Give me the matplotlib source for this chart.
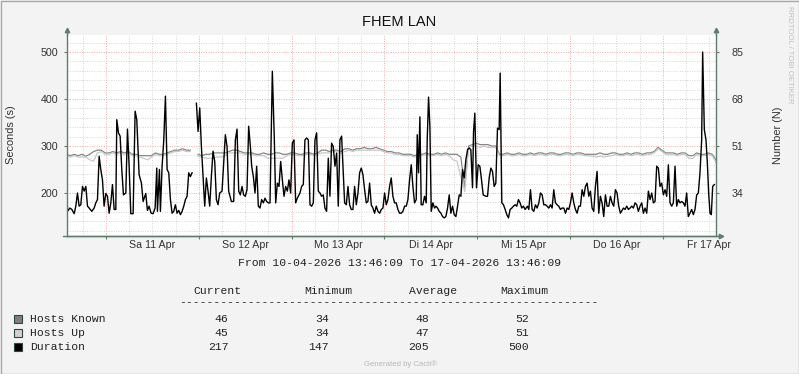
import numpy as np
import matplotlib
matplotlib.use("Agg")
import matplotlib.pyplot as plt
from matplotlib.patches import Rectangle
from matplotlib.ticker import FixedLocator

W, H = 799, 374
nan = float("nan")

# ── Data ──────────────────────────────────────────────────────────────────────
title = "FHEM LAN"
day_labels = ["Sa 11 Apr", "So 12 Apr", "Mo 13 Apr", "Di 14 Apr",
              "Mi 15 Apr", "Do 16 Apr", "Fr 17 Apr"]
start_clock = 13 + 46 / 60 + 9 / 3600     # graph starts 10-04 13:46:09
span_hours = 168

# Duration (s): hours since start, value
dur_hours = [
    0.0, 0.26, 0.86, 1.38, 1.98, 2.41, 2.84, 3.27, 3.70, 4.13, 4.57, 5.00, 5.43, 5.86,
    6.55, 7.15, 7.58, 8.01, 8.44, 8.87, 9.30, 9.73, 10.17, 10.60, 11.03, 11.46, 11.89,
    12.32, 12.75, 13.01, 13.44, 13.87, 14.30, 14.73, 15.34, 15.77, 16.20, 16.63, 17.23,
    17.75, 18.18, 18.78, 19.38, 19.82, 20.50, 20.93, 21.37, 21.88, 22.40, 22.92, 23.35,
    23.52, 24.04, 24.29, 24.73, 25.16, 25.59, 26.02, 26.45, 26.88, 27.31, 27.74, 28.17,
    28.60, 29.04, 29.47, 29.90, 30.33, 30.76, 31.19, 31.62, 32.05, 32.48, 33.00, 33.60,
    34.03, 34.46, 34.89, 35.32, 35.75, 36.18, 36.61, 37.04, 37.47, 37.90, 38.34, 38.77,
    39.20, 39.63, 40.23, 40.66, 41.09, 41.52, 41.95, 42.64, 43.25, 43.68, 44.11, 44.54,
    44.97, 45.40, 45.83, 46.26, 46.69, 47.12, 47.55,
    47.90, 48.33, 48.76, 49.19, 49.62, 50.05, 50.48, 50.92, 51.35, 51.78, 52.21, 52.64,
    53.24, 53.76, 54.11, 54.54, 54.97, 55.40, 55.83, 56.26, 56.69, 57.12, 57.55, 57.98,
    58.41, 58.84, 59.27, 59.70, 60.39, 60.82, 61.25, 61.68, 62.11, 62.55, 62.98, 63.41,
    63.84, 64.27, 64.70, 65.13, 65.56, 65.99, 66.42, 66.85, 67.28, 67.71, 68.14, 68.57,
    69.00, 69.44, 69.87, 70.30, 70.73, 71.16, 71.59,
    71.94, 72.37, 72.80, 73.23, 73.66, 74.09, 74.52, 74.96, 75.39, 75.82, 76.25, 76.68,
    77.11, 77.54, 77.97, 78.40, 78.83, 79.26, 79.69, 80.12, 80.56, 80.99, 81.42, 81.85,
    82.28, 82.71, 83.14, 83.57, 84.00, 84.43, 84.86, 85.29, 85.72, 86.16, 86.59, 87.02,
    87.45, 87.88, 88.31, 88.74, 89.17, 89.60, 90.03, 90.46, 90.72, 91.06, 91.41, 91.75,
    92.18, 92.61, 93.04, 93.30, 93.65, 93.99, 94.34, 94.77, 95.20,
    95.55, 95.98, 96.41, 96.84, 97.27, 97.70, 98.13, 98.56, 98.99, 99.42, 99.85, 100.28,
    100.72, 101.15, 101.58, 102.01, 102.44, 102.87, 103.30, 103.73, 104.16, 104.59,
    105.02, 105.28, 105.62, 106.05, 106.49, 106.92, 107.35, 107.78, 108.47, 108.90,
    109.33, 109.76, 110.19, 110.62, 111.05, 111.48, 111.91, 112.17, 112.60, 113.03,
    113.46, 113.89, 114.32, 114.75, 115.18, 115.61, 116.04, 116.47, 116.90, 117.33,
    117.76, 118.19, 118.62, 119.23,
    119.58, 120.01, 120.44, 120.87, 121.30, 121.73, 122.17, 122.60, 123.03, 123.46,
    123.89, 124.32, 124.75, 125.18, 125.61, 126.04, 126.47, 126.90, 127.33, 127.76,
    128.20, 128.63, 129.06, 129.49, 129.92, 130.35, 130.78, 131.21, 131.64, 132.07,
    132.50, 132.93, 133.37, 133.80, 134.23, 134.66, 135.09, 135.52, 135.95, 136.38,
    136.81, 137.24, 137.67, 138.10, 138.53, 138.96, 139.40, 139.83, 140.26, 140.69,
    141.12, 141.55, 141.98, 142.41, 142.84, 143.27,
    144.05, 144.48, 144.91, 145.34, 145.77, 146.20, 146.63, 147.06, 147.49, 147.92,
    148.36, 148.79, 149.22, 149.65, 150.08, 150.51, 150.94, 151.37, 151.80, 152.23,
    152.66, 153.09, 153.52, 153.95, 154.39, 154.82, 155.25, 155.68, 156.11, 156.54,
    156.97, 157.40, 157.83, 158.26, 158.69, 159.12, 159.55, 159.98, 160.41, 160.84,
    161.27, 161.70, 162.14, 162.57, 163.00, 163.43, 163.86, 164.29, 164.55, 164.98,
    165.41, 165.76, 166.10, 166.45, 166.79, 167.14, 167.57,
]
dur_values = [
    239, 161, 168, 165, 156, 172, 200, 172, 175, 214, 204, 214, 172, 168,
    161, 168, 179, 186, 278, 250, 228, 172, 199, 193, 157, 179, 218,
    165, 165, 356, 328, 321, 250, 196, 200, 336, 257, 156, 156,
    374, 356, 239, 221, 182, 199, 163, 172, 157, 156, 168, 253,
    161, 250, 161, 257, 313, 406, 250, 243, 186, 157, 161, 175,
    157, 163, 154, 161, 172, 186, 193, 243, 235, 243, nan, 391,
    331, 381, 299, 235, 172, 232, 204, 172, 235, 289, 267, 186,
    175, 200, 204, 264, 324, 299, 204, 182, 182, 313, 336, 204,
    196, 214, 196, 193, 207, 342, 300,
    257, 235, 200, 257, 172, 168, 186, 179, 189, 182, 179, 179,
    459, 313, 179, 221, 214, 267, 228, 193, 214, 204, 228, 200,
    306, 313, 179, 189, 200, 214, 218, 313, 317, 313, 175, 172,
    179, 313, 328, 204, 200, 193, 196, 168, 161, 274, 193, 306,
    299, 257, 285, 172, 313, 321, 243,
    179, 175, 214, 175, 165, 165, 214, 175, 200, 243, 253, 239,
    207, 179, 182, 221, 175, 168, 157, 172, 161, 157, 165, 168,
    200, 175, 186, 214, 232, 193, 179, 179, 165, 157, 157, 161,
    172, 172, 186, 228, 260, 214, 179, 186, 324, 243, 362, 175,
    175, 193, 179, 313, 404, 342, 161, 179, 168,
    172, 168, 161, 157, 150, 147, 150, 168, 196, 157, 172, 154,
    150, 172, 196, 193, 250, 232, 271, 292, 296, 292,
    211, 330, 370, 211, 260, 257, 228, 196, 193, 193,
    232, 253, 246, 214, 221, 338, 335, 455, 179, 175,
    165, 154, 147, 165, 168, 172, 175, 172, 186, 179,
    168, 172, 165, 172,
    165, 207, 165, 161, 175, 168, 179, 200, 196, 175,
    175, 172, 168, 175, 168, 207, 179, 175, 172, 165,
    168, 168, 157, 168, 165, 179, 200, 179, 165, 157,
    172, 172, 207, 193, 214, 221, 193, 204, 168, 161,
    214, 246, 157, 193, 179, 150, 196, 172, 172, 193,
    179, 172, 207, 200, 172, 157,
    168, 165, 172, 165, 168, 172, 168, 179, 175, 161,
    172, 179, 157, 168, 157, 204, 186, 200, 179, 182,
    257, 253, 214, 221, 196, 207, 193, 260, 179, 172,
    179, 257, 172, 186, 179, 182, 179, 172, 200, 150,
    157, 165, 154, 165, 196, 200, 243, 313, 500, 335,
    313, 264, 200, 157, 154, 214, 218,
]

# Hosts (N), hourly samples from start
host_hours = np.arange(169)
hosts_known = [
    48, 47.5, 48, 47.5, 48, 47.3, 48, 49, 49.5, 49.5,
    48.5, 48.5, 49, 48.5, 49, 48.5, 49, 48, 48, 47.5,
    47.5, 47.5, 47.5, 48.5, 48, 48, 48.5, 49, 49.5, 49.5,
    50, 49.5, 49.5, nan, 48, 47.5, 48, 48, 48.5, 48.5,
    48.5, 48.5, 49, 49.5, 49.5, 49, 48.5, 48.5, 48.5, 48,
    48, 48.5, 48, 48, 48.5, 48.5, 48, 48, 48.5, 48.5,
    48, 48, 48.5, 48.5, 48, 48.5, 49.5, 49.5, 49, 49.5,
    49.5, 49, 50, 50, 49.5, 50, 50, 50.5, 50, 50,
    50.5, 50, 49.5, 49, 49, 48.5, 48.5, 48, 48, 48,
    47.5, 48, 48, 48.5, 48, 48, 48.5, 48, 48.5, 48,
    48, 48, 47, 36, 51, 51.5, 52, 51.5, 51.5, 51.5,
    51, 51, 48, 48, 48.5, 48, 48, 48.5, 48, 48,
    48.5, 48, 48.5, 48.5, 48, 48.5, 48.5, 48, 48, 48.5,
    48.5, 48, 48.5, 48.5, 48, 48, 48, 48, 48.5, 48,
    48, 48.5, 48.5, 48, 48, 48.5, 48, 48.5, 48.5, 48,
    48.5, 48.5, 49, 50.5, 49.5, 48.5, 48.5, 48.5, 48, 48.5,
    48.5, 47.5, 47.5, 48.5, 48, 48, 48.5, 48, 46,
]
hosts_up = [
    47.5, 47, 47.5, 47, 47, 47, 46, 45.5, 48.5, 49,
    48, 48, 48.5, 48, 48.5, 48, 48.5, 47.5, 47.5, 47,
    46.5, 46, 47, 48, 47.5, 47.5, 48, 48.5, 49, 49,
    49.5, 49, 49, nan, 47.3, 47, 46.6, 46.6, 46.6, 47,
    47, 47.5, 48.5, 48.5, 48.5, 48.5, 48, 48, 48, 47.5,
    47.5, 47.5, 46.6, 46.6, 46.6, 46.6, 46.6, 47.5, 48, 48,
    47.5, 47.5, 48, 48, 47.5, 48, 48.5, 48.5, 48.5, 49,
    49, 48.5, 49, 49.5, 49, 49.5, 49.5, 49.5, 49.5, 49.5,
    49.5, 49.5, 49, 48.5, 48.5, 48, 48, 47.5, 47.5, 47.5,
    47, 47.5, 47.5, 48, 47.5, 47.5, 48, 47.5, 48, 47.5,
    46, 45.5, 40, 34.5, 50.5, 51, 51, 50.5, 51, 50.5,
    50.5, 50.5, 47.5, 47.5, 48, 47.5, 47.5, 48, 47.5, 47.5,
    48, 47.5, 48, 48, 47.5, 48, 48, 47.5, 47.5, 48,
    48, 47.5, 48, 48, 47.5, 47.5, 47.3, 47, 47.3, 47,
    47.3, 47.5, 48, 47.5, 47.5, 48, 47.5, 48, 48, 47.5,
    48, 48, 48.5, 50, 49, 48, 48, 48, 47.5, 48,
    48, 46.5, 46.5, 48, 47.5, 47.5, 48, 47.5, 45,
]

# Legend table
legend_names = ["Hosts Known", "Hosts Up", "Duration"]
legend_current = ["46", "45", "217"]
legend_minimum = ["34", "34", "147"]
legend_average = ["48", "47", "205"]
legend_maximum = ["52", "51", "500"]
legend_colors = ["#7f7f7f", "#d2d2d2", "#000000"]
period_text = "From 10-04-2026 13:46:09 To 17-04-2026 13:46:09"

# axes scale
left_ticks = [200, 300, 400, 500]
left_minor = list(range(120, 540, 20))
right_scale = 0.17
y_lo, y_hi = 109.6, 537.2

# ── Style ─────────────────────────────────────────────────────────────────────
BG = "#f3f3f3"
AXIS = "#5e7d6e"
TXT = "#333333"
SANS = ["Liberation Sans", "DejaVu Sans"]
MONO = ["Liberation Mono", "DejaVu Sans Mono"]
plt.rcParams["font.family"] = SANS


def fx(x):
    return x / W


def fy(y):
    return 1 - y / H


fig = plt.figure(figsize=(W / 100, H / 100), dpi=100, facecolor=BG)
rect = [fx(66.5), fy(235.5), 649.5 / W, 201 / H]

# bottom layer: grid + hosts, right axis
axn = fig.add_axes(rect, zorder=1)
axn.set_facecolor("white")
# top layer: duration, left and bottom axes
ax = fig.add_axes(rect, zorder=2)
ax.patch.set_visible(False)

midnights = [24 - start_clock + 24 * k for k in range(7)]
noons = [m + 12 for m in midnights]
six_hourly = [m + d for m in [midnights[0] - 24] + midnights for d in (6, 12, 18)]
six_hourly = [t for t in six_hourly if 0 < t < span_hours]

for a in (ax, axn):
    a.set_xlim(0, span_hours)
ax.set_ylim(y_lo, y_hi)
axn.set_ylim(y_lo * right_scale, y_hi * right_scale)

# grid on the bottom layer
axn.xaxis.set_major_locator(FixedLocator(midnights))
axn.xaxis.set_minor_locator(FixedLocator(six_hourly))
axn.yaxis.set_major_locator(FixedLocator([v * right_scale for v in left_ticks]))
axn.yaxis.set_minor_locator(FixedLocator([v * right_scale for v in left_minor]))
axn.grid(which="minor", color="#d4d4d4", ls=(0, (1, 1.5)), lw=0.7)
axn.grid(which="major", color="#eea8a8", ls=(0, (1, 1.5)), lw=0.7)
axn.tick_params(axis="x", which="both", bottom=False, labelbottom=False)
axn.tick_params(axis="y", which="minor", left=False, right=False)
axn.tick_params(axis="y", which="major", left=False, labelleft=False,
                right=True, labelright=True, length=2.5, width=0.8,
                color=AXIS, labelcolor=TXT, labelsize=7.7, pad=8.5)
axn.set_yticklabels([f"{v * right_scale:.0f}" for v in left_ticks])
for s in ("top", "left", "bottom"):
    axn.spines[s].set_visible(False)
axn.spines["right"].set_color(AXIS)
axn.spines["right"].set_linewidth(1)

axn.plot(host_hours, hosts_known, color="#878787", lw=0.9)
axn.plot(host_hours, hosts_up, color="#c8c8c8", lw=0.9)

# duration on top
ax.plot(dur_hours, dur_values, color="#000000", lw=1.0)

ax.set_xticks(midnights)
ax.set_xticklabels([])
ax.set_xticks(noons, minor=True)
ax.set_xticklabels(day_labels, minor=True)
ax.tick_params(axis="x", which="major", length=2.5, width=0.8, color=AXIS)
ax.tick_params(axis="x", which="minor", length=0, labelsize=7.7,
               labelcolor=TXT, pad=3)
ax.set_yticks(left_ticks)
ax.tick_params(axis="y", length=2.5, width=0.8, color=AXIS,
               labelsize=7.7, labelcolor=TXT, pad=3.5)
for s in ("top", "right"):
    ax.spines[s].set_visible(False)
for s in ("left", "bottom"):
    ax.spines[s].set_color(AXIS)
    ax.spines[s].set_linewidth(1)

# axis arrows
ax.plot([0, 0], [1, 1.02], color=AXIS, lw=1, transform=ax.transAxes, clip_on=False)
ax.plot([0], [1.02], marker="^", ms=3.2, color=AXIS, transform=ax.transAxes, clip_on=False)
ax.plot([1, 1], [1, 1.02], color=AXIS, lw=1, transform=ax.transAxes, clip_on=False)
ax.plot([1], [1.02], marker="^", ms=3.2, color=AXIS, transform=ax.transAxes, clip_on=False)
ax.plot([-0.005, 1.008], [0, 0], color=AXIS, lw=1, transform=ax.transAxes, clip_on=False)
ax.plot([1.008], [0], marker=">", ms=3.2, color=AXIS, transform=ax.transAxes, clip_on=False)

# ── Texts ─────────────────────────────────────────────────────────────────────
fig.text(fx(399), fy(22), title, ha="center", va="center", fontsize=10.5, color="#111111")
fig.text(fx(11.5), fy(135), "Seconds (s)", rotation=90, ha="center", va="center",
         fontsize=7.9, color=TXT)
fig.text(fx(778), fy(135), "Number (N)", rotation=90, ha="center", va="center",
         fontsize=7.9, color=TXT)
fig.text(fx(790), fy(55), "RRDTOOL / TOBI OETIKER", rotation=-90, ha="center",
         va="center", fontsize=5.6, color="#c0c0c0")

mono = dict(family=MONO, fontsize=8.2, color="#222222", va="baseline")
fig.text(fx(400), fy(266.5), period_text, ha="center", **mono)
for x, head in zip([193, 304, 409, 500], ["Current", "Minimum", "Average", "Maximum"]):
    fig.text(fx(x), fy(294.5), head, ha="left", **mono)
fig.text(fx(179), fy(305), "-" * 61, ha="left", **mono)

rows_y = [319, 333, 347]
for i, y in enumerate(rows_y):
    fig.patches.append(Rectangle((fx(14.5), fy(y + 4)), 7 / W, 8 / H,
                                 transform=fig.transFigure, facecolor=legend_colors[i],
                                 edgecolor="#2b4a3c", lw=0.8))
    fig.text(fx(30), fy(y + 3.5), legend_names[i], ha="left", **mono)
    for x, col in zip([228.5, 329, 429, 529],
                      [legend_current, legend_minimum, legend_average, legend_maximum]):
        fig.text(fx(x), fy(y + 3.5), col[i], ha="right", **mono)

fig.text(fx(400), fy(364), "Generated by Cacti\u00ae", ha="center", va="center",
         fontsize=5.6, color="#b8b8b8")

# frame
fig.patches.append(Rectangle((0.5 / W, 0.5 / H), 1 - 1 / W, 1 - 1 / H,
                             transform=fig.transFigure, fill=False,
                             edgecolor="#a8a8a8", lw=1))

fig.savefig("out.png", dpi=100, facecolor=BG)
